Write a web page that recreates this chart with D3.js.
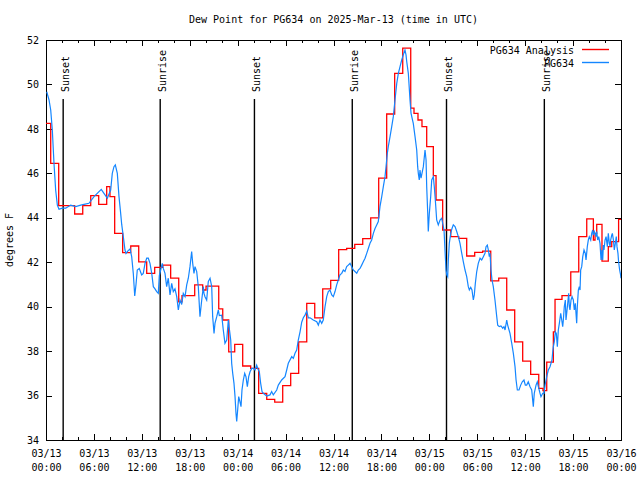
<!DOCTYPE html>
<html><head><meta charset="utf-8">
<script src="https://cdn.jsdelivr.net/npm/d3@7"></script>
<style>
body{margin:0;background:#fff}
svg{display:block}
text{font-family:"DejaVu Sans Mono",monospace;font-size:10px;fill:#000}
</style>
</head><body>
<svg id="c" width="640" height="480"></svg>
<script>
// ---- data (time = hours since 2025-03-13 00:00 UTC, value = deg F) ----
const chartTitle = "Dew Point for PG634 on 2025-Mar-13 (time in UTC)";
const yLabel = "degrees F";
const seriesNames = ["PG634 Analysis", "PG634"];
const seriesColors = ["#ff0000", "#1486ff"];

const majorHours = [0, 6, 12, 18, 24, 30, 36, 42, 48, 54, 60, 66, 72];
const tickDates = ["03/13","03/13","03/13","03/13","03/14","03/14","03/14","03/14","03/15","03/15","03/15","03/15","03/16"];
const tickTimes = ["00:00","06:00","12:00","18:00","00:00","06:00","12:00","18:00","00:00","06:00","12:00","18:00","00:00"];
const minorHours = [2,4,8,10,14,16,20,22,26,28,32,34,38,40,44,46,50,52,56,58,62,64,68,70];
const yTicks = [34, 36, 38, 40, 42, 44, 46, 48, 50, 52];

const sunHours = [2.15, 14.3, 26.1, 38.35, 50.15, 62.4];
const sunLabels = ["Sunset", "Sunrise", "Sunset", "Sunrise", "Sunset", "Sunrise"];

// Analysis (step series): [hour, value]
const analysis = [
[0.00,48.25],[0.59,46.45],[1.59,44.55],[3.59,44.17],[4.60,44.55],[5.60,45.0],[6.60,44.6],[7.60,45.4],[8.01,44.95],
[8.60,43.3],[9.60,42.43],[10.61,42.73],[11.61,42.02],[12.61,41.5],[13.61,41.77],[14.61,41.87],[15.61,41.28],
[16.62,40.22],[17.03,40.5],[18.62,40.98],[19.62,40.75],[20.04,40.92],[21.63,39.9],[22.13,39.4],[22.88,37.97],
[23.63,38.3],[24.63,37.33],[25.63,37.22],[26.63,36.1],[27.64,35.83],[28.64,35.7],[29.64,36.45],[30.64,37.0],
[31.64,38.42],[32.65,40.15],[33.65,39.5],[34.65,40.8],[35.65,41.18],[36.65,42.57],[37.65,42.62],[38.66,42.8],
[39.66,43.06],[40.66,44.0],[41.66,45.78],[42.66,48.67],[43.66,50.5],[44.67,51.63],[45.67,48.93],[46.08,48.7],
[46.58,48.4],[47.08,48.1],[47.67,47.2],[48.50,45.9],[48.84,44.8],[49.67,43.45],[50.68,43.15],[51.68,43.07],
[52.68,42.28],[53.68,42.44],[54.68,42.5],[55.69,41.16],[56.69,41.28],[57.69,39.85],[58.69,38.42],[59.69,37.55],
[60.69,36.95],[61.70,36.32],[62.23,36.22],[62.70,37.5],[63.53,38.87],[63.74,40.33],[64.61,40.5],[65.71,41.57],
[66.71,43.15],[67.71,43.95],[68.54,43.0],[68.75,43.3],[68.96,43.7],[69.62,42.05],[70.41,42.7],[70.84,42.93],
[71.70,43.93],[72.00,43.93]
];

// Station observations: [hour, value]
const station = [
[0.09,49.67],[0.38,49.3],[0.59,48.85],[0.79,47.95],[1.00,46.45],[1.21,45.25],[1.42,44.57],[1.63,44.38],[2.04,44.43],[2.47,44.43],
[3.09,44.57],[3.72,44.5],[4.35,44.57],[4.76,44.6],[5.38,44.65],[6.01,44.95],[6.42,45.1],[6.92,45.28],[7.26,45.1],[7.68,44.88],
[8.10,45.25],[8.30,46.0],[8.51,46.3],[8.68,46.38],[8.93,46.0],[9.14,44.95],[9.35,44.2],[9.48,43.7],[9.68,43.15],[9.89,42.55],
[10.02,42.4],[10.23,42.5],[10.52,42.6],[10.73,42.25],[10.93,41.5],[11.11,40.48],[11.27,41.0],[11.43,41.65],[11.68,41.72],[11.98,41.43],
[12.18,41.5],[12.40,41.95],[12.61,42.18],[12.81,42.18],[13.02,41.95],[13.24,41.5],[13.44,40.9],[13.65,40.8],[13.86,40.68],[14.06,40.6],
[14.19,41.4],[14.36,41.65],[14.56,41.95],[14.69,41.72],[14.90,41.5],[15.11,40.9],[15.31,41.28],[15.53,40.53],[15.74,41.05],[15.94,40.68],
[16.15,40.8],[16.37,40.45],[16.57,39.85],[16.78,40.3],[16.99,40.1],[17.19,40.6],[17.41,40.45],[17.62,40.98],[17.82,41.28],[18.03,41.8],
[18.24,42.48],[18.37,41.95],[18.53,41.5],[18.66,41.8],[18.87,41.58],[19.07,40.9],[19.28,39.55],[19.50,40.3],[19.70,40.9],[19.78,40.6],
[19.91,40.45],[20.12,40.3],[20.32,41.13],[20.54,41.28],[20.75,40.9],[20.87,39.55],[21.04,38.8],[21.16,39.25],[21.38,39.55],[21.58,39.85],
[21.70,39.6],[22.00,39.62],[22.20,38.95],[22.41,38.35],[22.63,38.5],[22.83,39.4],[22.95,39.03],[23.13,38.5],[23.25,37.45],[23.38,37.0],
[23.54,36.55],[23.67,35.95],[23.79,35.2],[23.88,34.83],[24.00,35.35],[24.13,35.95],[24.29,35.72],[24.42,35.5],[24.54,36.25],[24.71,36.7],
[24.88,37.0],[25.04,36.85],[25.21,36.4],[25.38,36.85],[25.55,37.07],[25.76,37.22],[25.96,37.22],[26.17,37.15],[26.38,37.37],[26.51,37.22],
[26.71,37.07],[26.88,36.55],[27.05,36.18],[27.21,36.1],[27.64,35.98],[28.05,36.03],[28.26,36.18],[28.46,36.03],[28.89,36.25],[29.09,36.47],
[29.51,36.7],[29.93,36.85],[30.14,37.15],[30.34,37.45],[30.77,37.75],[30.97,37.67],[31.18,37.9],[31.39,38.05],[31.59,38.5],[31.81,38.87],
[32.02,39.3],[32.22,39.5],[32.43,39.62],[32.65,39.8],[32.85,39.5],[33.06,39.5],[33.47,39.4],[33.90,39.32],[34.10,39.17],[34.31,39.4],
[34.52,39.25],[34.72,39.4],[34.94,40.0],[35.15,40.45],[35.35,40.68],[35.56,40.75],[35.78,40.53],[35.98,40.45],[36.19,40.68],[36.40,40.98],
[36.60,41.2],[36.81,41.43],[37.03,41.5],[37.23,41.65],[37.44,41.58],[37.65,41.8],[37.85,41.87],[38.07,41.95],[38.28,41.8],[38.48,41.65],
[38.69,41.58],[38.91,41.5],[39.11,41.65],[39.32,41.72],[39.53,41.87],[39.73,42.02],[39.95,42.18],[40.16,42.4],[40.36,42.62],[40.57,42.85],
[40.78,43.0],[40.99,43.3],[41.20,43.52],[41.41,43.68],[41.61,43.83],[41.82,44.5],[42.04,44.95],[42.24,45.4],[42.45,45.85],[42.58,46.3],
[42.74,46.9],[42.86,47.2],[43.08,47.65],[43.29,48.1],[43.49,48.55],[43.70,49.3],[43.92,50.05],[44.12,50.5],[44.33,50.8],[44.54,51.1],
[44.74,51.33],[44.95,51.55],[45.08,51.33],[45.17,51.03],[45.37,50.5],[45.58,49.3],[45.71,48.7],[45.99,48.25],[46.21,47.65],[46.42,47.05],
[46.54,46.3],[46.62,46.0],[46.74,45.7],[46.83,46.15],[46.96,45.78],[47.08,46.0],[47.25,46.3],[47.46,47.05],[47.59,46.6],[47.67,45.4],
[47.80,44.2],[47.87,43.38],[48.00,44.2],[48.17,44.95],[48.30,45.7],[48.50,45.85],[48.62,45.4],[48.75,44.8],[48.92,43.9],[49.12,43.68],
[49.34,43.9],[49.55,43.98],[49.67,43.75],[49.84,43.45],[49.96,42.55],[50.09,41.65],[50.18,41.43],[50.30,41.35],[50.38,42.1],[50.50,42.85],
[50.68,43.3],[50.84,43.52],[51.00,43.68],[51.22,43.6],[51.43,43.38],[51.63,43.15],[51.84,42.85],[52.06,42.4],[52.26,42.02],[52.47,41.65],
[52.68,41.35],[52.88,40.9],[53.01,40.75],[53.18,40.87],[53.34,40.75],[53.51,40.3],[53.63,40.53],[53.76,41.05],[53.93,41.57],[54.13,41.95],
[54.35,42.18],[54.56,42.1],[54.76,42.25],[54.97,42.4],[55.10,42.7],[55.26,42.77],[55.39,42.55],[55.51,42.25],[55.60,42.4],[55.72,41.65],
[55.85,41.2],[56.01,40.9],[56.22,40.3],[56.44,39.55],[56.56,39.17],[56.76,39.1],[56.97,39.13],[57.19,39.03],[57.35,39.1],[57.48,38.95],
[57.69,39.4],[57.81,39.17],[57.98,38.95],[58.10,38.8],[58.32,38.35],[58.52,37.9],[58.73,37.3],[58.86,36.7],[59.02,36.25],[59.23,36.25],
[59.44,36.47],[59.64,36.62],[59.85,36.7],[60.02,36.47],[60.19,36.47],[60.39,36.62],[60.61,36.4],[60.82,36.25],[61.02,35.5],[61.14,36.1],
[61.36,36.47],[61.52,36.62],[61.65,36.4],[61.86,36.1],[61.98,35.95],[62.20,36.1],[62.36,36.1],[62.49,36.47],[62.70,36.85],[62.90,37.15],
[63.11,37.3],[63.36,37.6],[63.45,37.97],[63.53,38.2],[63.65,38.42],[63.78,38.87],[63.90,38.8],[64.03,38.2],[64.15,38.95],[64.28,39.25],
[64.45,39.7],[64.58,39.4],[64.70,39.1],[64.78,39.4],[64.90,40.0],[65.03,40.3],[65.11,39.4],[65.20,39.7],[65.33,40.15],[65.45,40.6],
[65.53,40.0],[65.61,39.85],[65.74,40.3],[65.87,40.45],[66.03,40.3],[66.15,39.85],[66.28,40.15],[66.45,39.25],[66.53,40.0],[66.66,40.75],
[66.78,40.9],[66.87,40.75],[66.95,41.65],[67.08,41.8],[67.21,42.25],[67.37,42.55],[67.53,42.4],[67.62,42.1],[67.78,42.7],[67.91,43.0],
[68.03,43.15],[68.21,43.0],[68.33,43.3],[68.46,43.45],[68.53,43.22],[68.66,43.38],[68.75,43.3],[68.87,43.15],[68.96,43.38],[69.08,43.0],
[69.21,43.15],[69.37,42.85],[69.50,42.1],[69.62,42.55],[69.71,42.1],[69.79,42.77],[69.87,42.55],[70.00,43.0],[70.13,43.15],[70.29,42.7],
[70.41,43.3],[70.54,42.85],[70.63,42.7],[70.71,43.0],[70.84,43.22],[70.92,43.3],[71.05,43.0],[71.16,42.55],[71.29,42.85],[71.41,43.15],
[71.50,42.7],[71.62,42.4],[71.70,42.02],[71.83,41.65],[71.95,41.43],[72.00,41.28]
];

// ---- drawing ----
const L = 46, R = 621, T = 40, B = 440;
const svg = d3.select("#c");
svg.append("rect").attr("width",640).attr("height",480).attr("fill","#fff");

const x = d3.scaleLinear().domain([0, 72]).range([L, R]);
const y = d3.scaleLinear().domain([34, 52]).range([B, T]);

// title
svg.append("text").attr("x", (L + R) / 2).attr("y", 23).attr("text-anchor", "middle").text(chartTitle);

// y label
svg.append("text").attr("transform", `translate(13,${(T + B) / 2}) rotate(-90)`)
  .attr("text-anchor", "middle").text(yLabel);

// axes
const gB = svg.append("g").attr("transform", `translate(0,${B})`)
  .call(d3.axisBottom(x).tickValues(majorHours).tickSize(-6).tickFormat(""));
gB.selectAll(".tick text").attr("y", 0).attr("dy", null).each(function (d, i) {
  const t = d3.select(this);
  t.append("tspan").attr("x", 0).attr("y", 17).text(tickDates[i]);
  t.append("tspan").attr("x", 0).attr("y", 31).text(tickTimes[i]);
});
svg.append("g").attr("transform", `translate(0,${B})`)
  .call(d3.axisBottom(x).tickValues(minorHours).tickSize(-3).tickFormat(""));
svg.append("g").attr("transform", `translate(0,${T})`)
  .call(d3.axisTop(x).tickValues(majorHours).tickSize(-6).tickFormat(""));
svg.append("g").attr("transform", `translate(0,${T})`)
  .call(d3.axisTop(x).tickValues(minorHours).tickSize(-3).tickFormat(""));
svg.append("g").attr("transform", `translate(${L},0)`)
  .call(d3.axisLeft(y).tickValues(yTicks).tickSize(-6).tickPadding(7).tickFormat(d3.format("d")));
svg.append("g").attr("transform", `translate(${R},0)`)
  .call(d3.axisRight(y).tickValues(yTicks).tickSize(-6).tickFormat(""));
svg.selectAll(".domain").remove();
svg.selectAll(".tick line").attr("stroke", "#000").attr("shape-rendering", "crispEdges");
svg.selectAll(".tick text").attr("font-family", null).attr("font-size", null);

// frame
svg.append("rect").attr("x", L).attr("y", T).attr("width", R - L).attr("height", B - T)
  .attr("fill", "none").attr("stroke", "#000").attr("shape-rendering", "crispEdges");

// clip
svg.append("clipPath").attr("id", "clip").append("rect")
  .attr("x", L).attr("y", T).attr("width", R - L).attr("height", B - T);

// sunrise / sunset lines and labels
const sun = svg.append("g");
sun.selectAll("line").data(sunHours).join("line")
  .attr("x1", d => x(d)).attr("x2", d => x(d)).attr("y1", 99).attr("y2", B)
  .attr("stroke", "#000").attr("stroke-width", 1.4);
sun.selectAll("text").data(sunHours).join("text")
  .attr("transform", d => `translate(${x(d) + 5.5},92) rotate(-90)`)
  .text((d, i) => sunLabels[i]);

// series
const plot = svg.append("g").attr("clip-path", "url(#clip)");
plot.append("path").datum(analysis)
  .attr("d", d3.line().x(d => x(d[0])).y(d => y(d[1])).curve(d3.curveStepAfter))
  .attr("fill", "none").attr("stroke", seriesColors[0]).attr("stroke-width", 1.3);
plot.append("path").datum(station)
  .attr("d", d3.line().x(d => x(d[0])).y(d => y(d[1])))
  .attr("fill", "none").attr("stroke", seriesColors[1]).attr("stroke-width", 1.2);

// legend
const leg = svg.append("g");
seriesNames.forEach((n, i) => {
  const ly = 49.5 + i * 13;
  leg.append("text").attr("x", 574).attr("y", ly + 4.3).attr("text-anchor", "end").text(n);
  leg.append("line").attr("x1", 582).attr("x2", 609).attr("y1", ly).attr("y2", ly)
    .attr("stroke", seriesColors[i]).attr("stroke-width", 1.4);
});
</script>
</body></html>
